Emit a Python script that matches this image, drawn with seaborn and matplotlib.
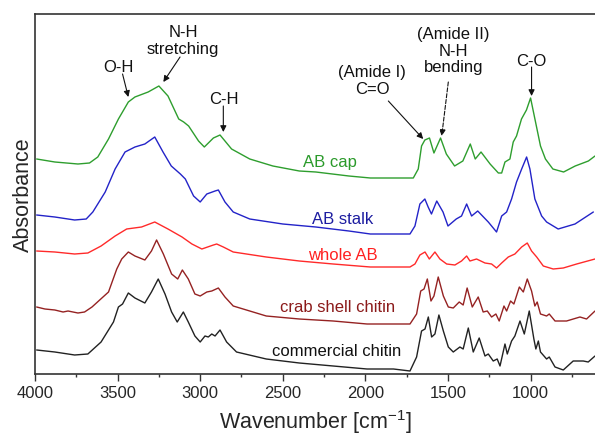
import matplotlib.pyplot as plt
import pandas as pd
import seaborn as sns

sns.set_theme(style="white")
plt.rcParams['font.family'] = ['Liberation Sans', 'DejaVu Sans']
plt.rcParams['mathtext.default'] = 'regular'

## Spectra (wavenumber in cm-1, absorbance in offset a.u.)
wn_cap = [3990, 3880, 3740, 3670, 3620, 3555, 3495, 3435, 3395, 3315, 3250, 3195, 3130, 3100,
          3070, 3010, 2975, 2920, 2880, 2810, 2700, 2560, 2400, 2300, 2100, 1970, 1830, 1710,
          1680, 1660, 1640, 1612, 1585, 1545, 1510, 1460, 1410, 1365, 1335, 1300, 1245, 1195,
          1175, 1155, 1125, 1105, 1085, 1055, 1025, 1000, 965, 940, 910, 865, 800, 730, 650, 610]
abs_cap = [2.15, 2.12, 2.10, 2.11, 2.17, 2.35, 2.55, 2.72, 2.77, 2.82, 2.88, 2.78, 2.55, 2.52,
           2.48, 2.33, 2.27, 2.36, 2.39, 2.25, 2.15, 2.08, 2.03, 2.02, 1.98, 1.96, 1.96, 1.96,
           2.05, 2.28, 2.34, 2.36, 2.21, 2.36, 2.20, 2.08, 2.13, 2.30, 2.15, 2.22, 2.10, 2.01,
           2.01, 2.12, 2.15, 2.32, 2.38, 2.55, 2.64, 2.76, 2.48, 2.28, 2.15, 2.05, 2.02, 2.08, 2.13, 2.18]

wn_stalk = [3990, 3880, 3760, 3690, 3650, 3575, 3515, 3455, 3395, 3335, 3275, 3225, 3175, 3120,
            3090, 3040, 3000, 2960, 2910, 2890, 2850, 2800, 2700, 2500, 2300, 2100, 1970, 1830,
            1730, 1700, 1670, 1640, 1620, 1600, 1568, 1530, 1500, 1450, 1418, 1387, 1357, 1320,
            1256, 1206, 1175, 1145, 1115, 1085, 1054, 1024, 1004, 974, 933, 903, 833, 731, 620]
abs_stalk = [1.59, 1.57, 1.54, 1.55, 1.62, 1.82, 2.05, 2.22, 2.27, 2.30, 2.37, 2.22, 2.08, 2.00,
             1.95, 1.78, 1.72, 1.80, 1.83, 1.84, 1.72, 1.62, 1.55, 1.50, 1.47, 1.43, 1.40, 1.40,
             1.40, 1.48, 1.70, 1.75, 1.67, 1.60, 1.73, 1.62, 1.48, 1.55, 1.58, 1.70, 1.58, 1.63,
             1.52, 1.42, 1.58, 1.62, 1.75, 1.92, 2.05, 2.17, 2.05, 1.75, 1.58, 1.52, 1.45, 1.50, 1.62]

wn_whole = [3990, 3880, 3760, 3680, 3600, 3515, 3445, 3355, 3275, 3195, 3110, 3050, 2990, 2920,
            2900, 2860, 2800, 2600, 2400, 2195, 1970, 1830, 1730, 1700, 1670, 1639, 1613, 1579,
            1549, 1508, 1458, 1418, 1387, 1367, 1327, 1276, 1236, 1206, 1175, 1135, 1095, 1054,
            1020, 994, 963, 923, 863, 802, 721, 610]
abs_whole = [1.23, 1.22, 1.20, 1.21, 1.28, 1.38, 1.45, 1.47, 1.52, 1.45, 1.37, 1.30, 1.25, 1.29,
             1.30, 1.27, 1.22, 1.17, 1.13, 1.10, 1.07, 1.07, 1.07, 1.10, 1.19, 1.22, 1.15, 1.22,
             1.15, 1.10, 1.09, 1.13, 1.18, 1.13, 1.15, 1.11, 1.10, 1.06, 1.11, 1.17, 1.20, 1.27,
             1.31, 1.23, 1.17, 1.08, 1.05, 1.06, 1.10, 1.15]

wn_crab = [3990, 3940, 3880, 3830, 3800, 3740, 3700, 3655, 3555, 3505, 3475, 3435, 3395, 3335,
           3295, 3264, 3223, 3173, 3136, 3108, 3072, 3032, 3000, 2960, 2930, 2890, 2850, 2800,
           2600, 2400, 2195, 1990, 1730, 1690, 1665, 1645, 1625, 1603, 1585, 1559, 1528, 1498,
           1468, 1432, 1408, 1384, 1353, 1317, 1287, 1262, 1236, 1210, 1190, 1161, 1145, 1121,
           1101, 1068, 1044, 1020, 994, 974, 960, 940, 903, 887, 852, 782, 701, 661, 610]
abs_crab = [0.67, 0.65, 0.64, 0.62, 0.63, 0.61, 0.62, 0.67, 0.82, 1.05, 1.15, 1.22, 1.18, 1.14,
            1.23, 1.34, 1.20, 1.00, 0.95, 1.04, 0.95, 0.80, 0.78, 0.82, 0.83, 0.86, 0.77, 0.68,
            0.58, 0.55, 0.53, 0.50, 0.50, 0.60, 0.83, 0.85, 0.95, 0.73, 0.78, 0.97, 0.78, 0.67,
            0.66, 0.72, 0.69, 0.86, 0.67, 0.77, 0.62, 0.63, 0.57, 0.60, 0.53, 0.68, 0.63, 0.73,
            0.70, 0.87, 0.82, 0.95, 0.83, 0.68, 0.72, 0.60, 0.58, 0.60, 0.53, 0.53, 0.57, 0.55, 0.63]

wn_comm = [3990, 3880, 3760, 3680, 3600, 3525, 3495, 3470, 3435, 3395, 3335, 3295, 3254, 3213,
           3173, 3139, 3102, 3072, 3032, 3000, 2971, 2951, 2930, 2910, 2880, 2840, 2780, 2600,
           2400, 2195, 1990, 1830, 1730, 1690, 1660, 1639, 1619, 1599, 1579, 1555, 1528, 1498,
           1468, 1428, 1408, 1377, 1347, 1311, 1276, 1256, 1226, 1202, 1185, 1155, 1141, 1115,
           1095, 1064, 1038, 1008, 980, 968, 953, 940, 903, 887, 852, 802, 742, 681, 651, 610]
abs_comm = [0.24, 0.22, 0.19, 0.20, 0.32, 0.52, 0.67, 0.70, 0.81, 0.76, 0.71, 0.82, 0.95, 0.80,
            0.62, 0.52, 0.62, 0.52, 0.38, 0.32, 0.38, 0.37, 0.40, 0.38, 0.44, 0.32, 0.22, 0.15,
            0.11, 0.08, 0.05, 0.05, 0.03, 0.17, 0.43, 0.45, 0.57, 0.37, 0.40, 0.59, 0.43, 0.27,
            0.22, 0.27, 0.25, 0.46, 0.22, 0.36, 0.18, 0.20, 0.13, 0.15, 0.08, 0.30, 0.20, 0.33,
            0.38, 0.53, 0.40, 0.63, 0.35, 0.25, 0.33, 0.22, 0.15, 0.17, 0.07, 0.04, 0.13, 0.13,
            0.12, 0.18]

names = ["AB cap", "AB stalk", "whole AB", "crab shell chitin", "commercial chitin"]
line_colors = ["#2e9e2e", "#2323c8", "#ff2a2a", "#952222", "#222222"]
text_colors = ["#2a9a2a", "#1c1ca0", "#ff2020", "#8b1a1a", "#111111"]
label_pos = [(2214, 2.12), (2136, 1.55), (2136, 1.20), (2166, 0.67), (2172, 0.23)]
spectra = [(wn_cap, abs_cap), (wn_stalk, abs_stalk), (wn_whole, abs_whole),
           (wn_crab, abs_crab), (wn_comm, abs_comm)]

## Plot
fig = plt.figure(figsize=(5.95, 4.39), dpi=100)
ax = fig.add_axes([35/595, 64/439, 560/595, 360/439])

for name, (wn, ab), col, tcol, (tx, ty) in zip(names, spectra, line_colors, text_colors, label_pos):
    df = pd.DataFrame({"wn": wn, "abs": ab})
    sns.lineplot(data=df, x="wn", y="abs", color=col, lw=1.0, estimator=None, ax=ax,
                 solid_joinstyle="round")
    ax.text(tx, ty, name, color=tcol, fontsize=12, ha="center", va="center")

## Band assignments
notes = [("O-H", (3492, 3.08), (3470, 3.00), (3435, 2.77), "-"),
         ("N-H\nstretching", (3104, 3.34), (3122, 3.17), (3223, 2.92), "-"),
         ("C-H", (2856, 2.76), (2860, 2.68), (2860, 2.42), "-"),
         ("(Amide I)\nC=O", (1958, 2.94), (1861, 2.73), (1650, 2.35), "-"),
         ("(Amide II)\nN-H\nbending", (1468, 3.24), (1498, 2.92), (1538, 2.38), "--"),
         ("C-O", (994, 3.14), (994, 3.07), (994, 2.78), "-")]
for txt, tpos, tail, head, ls in notes:
    ax.text(tpos[0], tpos[1], txt, fontsize=12, ha="center", va="center", color="#111111",
            linespacing=1.15)
    ax.annotate("", xy=head, xytext=tail,
                arrowprops=dict(arrowstyle="-|>", color="#111111", lw=0.8, ls=ls,
                                mutation_scale=9, shrinkA=0, shrinkB=0))

## Axes style
ax.set_xlim(4000, 610)
ax.set_ylim(0, 3.6)
ax.set_xticks([4000, 3500, 3000, 2500, 2000, 1500, 1000])
ax.set_xticks([3750, 3250, 2750, 2250, 1750, 1250, 750], minor=True)
ax.set_yticks([])
ax.tick_params(axis="x", which="major", direction="out", length=5, width=1, color="#333333",
               labelsize=12, bottom=True, pad=3)
ax.tick_params(axis="x", which="minor", direction="out", length=2.5, width=1, color="#333333",
               bottom=True)
for side in ["left", "bottom", "top"]:
    ax.spines[side].set_color("#333333")
    ax.spines[side].set_linewidth(1.2)
ax.spines["right"].set_visible(False)
ax.set_xlabel("Wavenumber [cm$^{-1}$]", fontsize=15.5, labelpad=5)
ax.set_ylabel("Absorbance", fontsize=15.5, labelpad=1)

fig.savefig("out.png", dpi=100)
